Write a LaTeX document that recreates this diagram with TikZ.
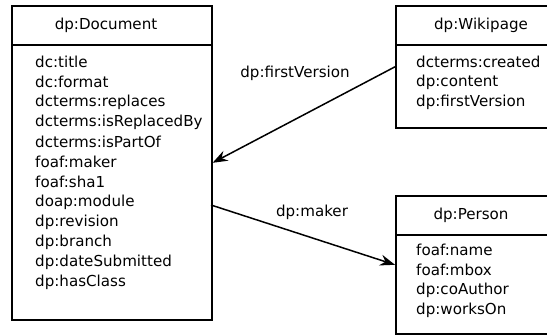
\documentclass[tikz,border=0pt]{standalone}
\usepackage{fontspec}
\setmainfont{DejaVu Sans}
\usetikzlibrary{arrows.meta}
\begin{document}
\begin{tikzpicture}[x=1pt,y=-1pt,
  cls/.style={draw, line width=1.6pt, rectangle, anchor=north west, inner sep=0pt},
  sep/.style={line width=1.6pt},
  attr/.style={anchor=west, inner sep=0pt, font=\fontsize{15.1}{17}\selectfont},
  title/.style={anchor=center, inner sep=0pt, font=\fontsize{15.1}{17}\selectfont},
  rel/.style={line width=1.5pt, -{Stealth[length=15pt, width=11pt, inset=5pt]}},
  lbl/.style={inner sep=0pt, font=\fontsize{15.1}{17}\selectfont}]
\useasboundingbox (0,0) rectangle (547,335);
\clip (0,0) rectangle (547,335);
% Document
\node[cls, minimum width=200pt, minimum height=314pt] (doc) at (11,5) {};
\draw[sep] (11,45) -- (211,45);
\node[title] (doct) at (106,25) {dp:Document};
\foreach \t [count=\i] in {dc:title, dc:format, dcterms:replaces, dcterms:isReplacedBy, dcterms:isPartOf, foaf:maker, foaf:sha1, doap:module, dp:revision, dp:branch, dp:dateSubmitted, dp:hasClass}
  \node[attr] (doca\i) at (35,{42+20*\i}) {\t};
% Wikipage
\node[cls, minimum width=160pt, minimum height=122pt] (wiki) at (395,5) {};
\draw[sep] (395,45) -- (550,45);
\node[title] (wikit) at (481,25) {dp:Wikipage};
\foreach \t [count=\i] in {dcterms:created, dp:content, dp:firstVersion}
  \node[attr] (wikia\i) at (416,{42+20*\i}) {\t};
% Person
\node[cls, minimum width=160pt, minimum height=138pt] (pers) at (395,195) {};
\draw[sep] (395,235) -- (550,235);
\node[title] (perst) at (471,215) {dp:Person};
\foreach \t [count=\i] in {foaf:name, foaf:mbox, dp:coAuthor, dp:worksOn}
  \node[attr] (persa\i) at (416,{230+20*\i}) {\t};
% Connectors
\coordinate (mk) at (211,205);
\draw[rel] (wiki.west) -- (doc.east);
\draw[rel] (mk) -- (pers.west);
\node[lbl] (l1) at (295,73) {dp:firstVersion};
\node[lbl] (l2) at (312,212) {dp:maker};
\end{tikzpicture}
\end{document}
